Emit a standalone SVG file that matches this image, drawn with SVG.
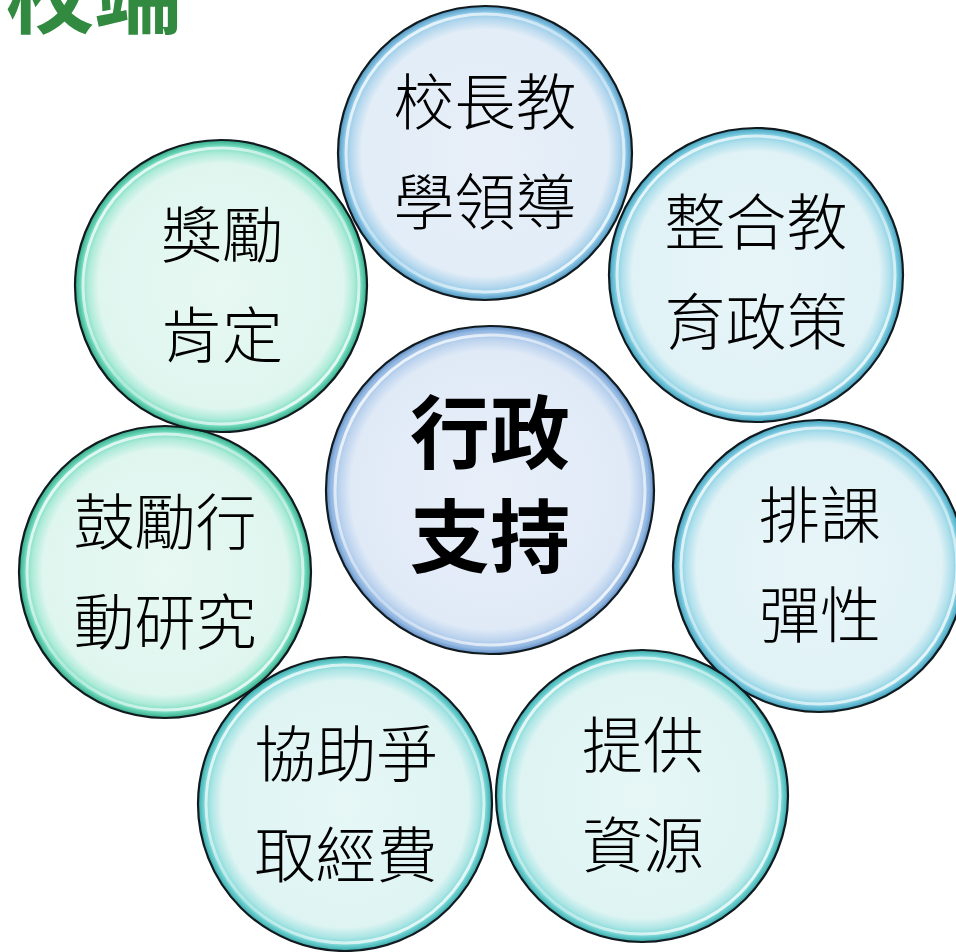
<svg xmlns="http://www.w3.org/2000/svg" width="956" height="952" viewBox="0 0 956 952">
<defs>
<radialGradient id="gBlue" cx="0.5" cy="0.5" r="0.5">
<stop offset="0" stop-color="#e8eff8"/>
<stop offset="0.84" stop-color="#e2edf7"/>
<stop offset="0.91" stop-color="#b6d8ee"/>
<stop offset="0.96" stop-color="#8ac6e6"/>
<stop offset="1" stop-color="#4f94bd"/>
</radialGradient>
<radialGradient id="gCenter" cx="0.5" cy="0.5" r="0.5">
<stop offset="0" stop-color="#e8eff9"/>
<stop offset="0.85" stop-color="#e0eaf7"/>
<stop offset="0.92" stop-color="#bcd3ee"/>
<stop offset="0.97" stop-color="#93b8e2"/>
<stop offset="1" stop-color="#5f8cc2"/>
</radialGradient>
<radialGradient id="gCyan" cx="0.5" cy="0.5" r="0.5">
<stop offset="0" stop-color="#e8f5f8"/>
<stop offset="0.84" stop-color="#e0f2f6"/>
<stop offset="0.91" stop-color="#b0e0ec"/>
<stop offset="0.96" stop-color="#7ccbe0"/>
<stop offset="1" stop-color="#3f9fba"/>
</radialGradient>
<radialGradient id="gAqua" cx="0.5" cy="0.5" r="0.5">
<stop offset="0" stop-color="#e6f7f6"/>
<stop offset="0.84" stop-color="#def4f3"/>
<stop offset="0.91" stop-color="#ade6e5"/>
<stop offset="0.96" stop-color="#74d4d4"/>
<stop offset="1" stop-color="#38a8aa"/>
</radialGradient>
<radialGradient id="gGreen" cx="0.5" cy="0.5" r="0.5">
<stop offset="0" stop-color="#e8f8f3"/>
<stop offset="0.84" stop-color="#dff6ef"/>
<stop offset="0.91" stop-color="#aeebd8"/>
<stop offset="0.96" stop-color="#6fd9bc"/>
<stop offset="1" stop-color="#32a886"/>
</radialGradient>
<linearGradient id="hl" x1="0" y1="0" x2="1" y2="1">
<stop offset="0" stop-color="#ffffff" stop-opacity="0.95"/>
<stop offset="0.5" stop-color="#ffffff" stop-opacity="0.35"/>
<stop offset="1" stop-color="#ffffff" stop-opacity="0.95"/>
</linearGradient>
</defs>
<style>
.edge{stroke:#111a1e;stroke-width:2.2}
.hl{fill:none;stroke:url(#hl);stroke-width:3}
.t{font-family:"Noto Sans CJK TC","Noto Sans CJK SC",sans-serif;font-size:61px;font-weight:300;fill:#000;text-anchor:middle}
.tc{font-family:"Noto Sans CJK TC","Noto Sans CJK SC",sans-serif;font-size:80px;font-weight:bold;fill:#000;text-anchor:middle}
.title{font-family:"Noto Sans CJK TC","Noto Sans CJK SC",sans-serif;font-size:88px;font-weight:bold;fill:#318a3f}
</style>
<rect width="956" height="952" fill="#ffffff"/>
<text class="title" x="6" y="26">校端</text>
<g id="connectors"/>
<g id="n-top">
<circle class="edge" cx="485" cy="153" r="147" fill="url(#gBlue)"/>
<circle class="hl" cx="485" cy="153" r="139"/>
<text class="t" x="485" y="125">校長教</text>
<text class="t" x="485" y="225">學領導</text>
</g>
<g id="n-topright">
<circle class="edge" cx="756" cy="275" r="147" fill="url(#gCyan)"/>
<circle class="hl" cx="756" cy="275" r="139"/>
<text class="t" x="756" y="245">整合教</text>
<text class="t" x="756" y="345">育政策</text>
</g>
<g id="n-right">
<circle class="edge" cx="819" cy="566" r="146" fill="url(#gCyan)"/>
<circle class="hl" cx="819" cy="566" r="138"/>
<text class="t" x="820" y="538">排課</text>
<text class="t" x="820" y="638">彈性</text>
</g>
<g id="n-bottomright">
<circle class="edge" cx="642" cy="796" r="146" fill="url(#gAqua)"/>
<circle class="hl" cx="642" cy="796" r="138"/>
<text class="t" x="643" y="768">提供</text>
<text class="t" x="643" y="868">資源</text>
</g>
<g id="n-bottomleft">
<circle class="edge" cx="345" cy="804" r="147" fill="url(#gAqua)"/>
<circle class="hl" cx="345" cy="804" r="139"/>
<text class="t" x="346" y="777">協助爭</text>
<text class="t" x="346" y="878">取經費</text>
</g>
<g id="n-left">
<circle class="edge" cx="165" cy="572" r="146" fill="url(#gGreen)"/>
<circle class="hl" cx="165" cy="572" r="138"/>
<text class="t" x="165" y="545">鼓勵行</text>
<text class="t" x="165" y="645">動研究</text>
</g>
<g id="n-topleft">
<circle class="edge" cx="221" cy="286" r="146" fill="url(#gGreen)"/>
<circle class="hl" cx="221" cy="286" r="138"/>
<text class="t" x="222" y="258">獎勵</text>
<text class="t" x="222" y="358">肯定</text>
</g>
<g id="n-center">
<circle class="edge" cx="490" cy="490" r="164" fill="url(#gCenter)"/>
<circle class="hl" cx="490" cy="490" r="155"/>
<text class="tc" x="490" y="462">行政</text>
<text class="tc" x="490" y="566">支持</text>
</g>
</svg>
